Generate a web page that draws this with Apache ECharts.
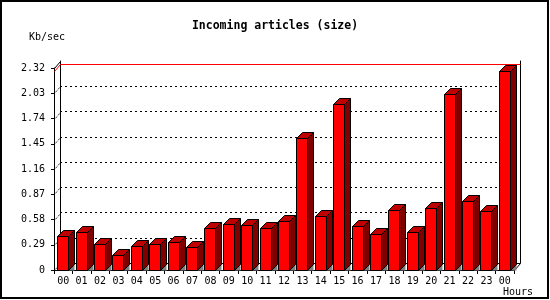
<!DOCTYPE html>
<html>
<head>
<meta charset="utf-8">
<script src="https://cdn.jsdelivr.net/npm/echarts@6/dist/echarts.min.js"></script>
<style>html,body{margin:0;padding:0;background:#fff}#c{width:550px;height:300px}</style>
</head>
<body>
<div id="c"></div>
<script>
var titleText = 'Incoming articles (size)';
var yAxisTitle = 'Kb/sec';
var xAxisTitle = 'Hours';
var hours = ['00','01','02','03','04','05','06','07','08','09','10','11','12','13','14','15','16','17','18','19','20','21','22','23','00'];
var sizes = [0.385,0.442,0.300,0.178,0.278,0.300,0.327,0.266,0.485,0.534,0.522,0.485,0.568,1.518,0.622,1.909,0.500,0.416,0.691,0.442,0.714,2.024,0.795,0.680,2.288];
var yMax = 2.32;
var yStep = 0.29;
var yTickValues = [0,0.29,0.58,0.87,1.16,1.45,1.74,2.03,2.32];

var DX = 6, DY = 7, BD = 6;
var FONT = 'DejaVu Sans Mono';
var maxVal = Math.max.apply(null, sizes);

var chart = echarts.init(document.getElementById('c'), null, {renderer:'canvas'});

function r(v){ return Math.round(v) + 0.5; }

var option = {
  animation: false,
  backgroundColor: '#fff',
  grid: [
    {left: 54, top: 68, width: 460, height: 202},
    {left: 60, top: 61, width: 460, height: 202}
  ],
  xAxis: [
    {type:'category', gridIndex:0, data: hours, boundaryGap:true,
     axisLine:{show:true, lineStyle:{color:'#000', width:1}},
     axisTick:{show:true, length:4, lineStyle:{color:'#000'}, interval:0},
     axisLabel:{interval:0, margin:6, color:'#000', fontFamily:FONT, fontSize:10},
     splitLine:{show:false}},
    {type:'category', gridIndex:1, data: hours, position:'top',
     axisLine:{show:true, lineStyle:{color:'#000', width:1}},
     axisTick:{show:false}, axisLabel:{show:false}, splitLine:{show:false}}
  ],
  yAxis: [
    {type:'value', gridIndex:0, min:0, max:yMax, interval:yStep,
     axisLine:{show:true, lineStyle:{color:'#000'}},
     axisTick:{show:true, length:3, lineStyle:{color:'#000'}},
     axisLabel:{margin:9, color:'#000', fontFamily:FONT, fontSize:10,
       formatter:function(v){ var i = Math.round(v/yStep); var t = yTickValues[i]; return t===0?'0':t.toFixed(2);} },
     splitLine:{show:false}},
    {type:'value', gridIndex:1, min:0, max:yMax, interval:yStep,
     axisLine:{show:true, lineStyle:{color:'#000'}},
     axisTick:{show:false}, axisLabel:{show:false},
     splitLine:{show:true, showMinLine:false, showMaxLine:false, lineStyle:{color:'#000', type:[2,3], width:1}}},
    {type:'value', gridIndex:1, min:0, max:yMax, interval:yStep, position:'right',
     axisLine:{show:true, onZero:false, lineStyle:{color:'#000'}},
     axisTick:{show:false}, axisLabel:{show:false}, splitLine:{show:false}}
  ],
  graphic: [
    {type:'rect', shape:{x:1, y:1, width:547, height:297}, style:{fill:null, stroke:'#000', lineWidth:2}, silent:true},
    {type:'text', x:275, y:26, style:{text:titleText, font:'bold 11.5px "DejaVu Sans Mono"', fill:'#000', textAlign:'center', textVerticalAlign:'middle'}},
    {type:'text', x:47, y:37, style:{text:yAxisTitle, font:'10px "DejaVu Sans Mono"', fill:'#000', textAlign:'center', textVerticalAlign:'middle'}},
    {type:'text', x:518, y:292, style:{text:xAxisTitle, font:'10px "DejaVu Sans Mono"', fill:'#000', textAlign:'center', textVerticalAlign:'middle'}}
  ],
  series: [
    {
      type:'custom', xAxisIndex:0, yAxisIndex:0, z:1,
      data: yTickValues.map(function(v){ return [0, v]; }),
      renderItem: function(params, api){
        var cs = params.coordSys;
        var v = api.value(1);
        var y = api.coord([0, v])[1];
        var top = v >= yMax - 1e-9;
        var children = [{type:'line', shape:{x1:cs.x+0.5, y1:r(y), x2:cs.x+DX+0.5, y2:r(y)-DY},
          style:{stroke:'#000', lineWidth:1, lineDash: top ? null : [1,1]}}];
        if (v === 0) {
          children.push({type:'line', shape:{x1:cs.x+cs.width+0.5, y1:r(y), x2:cs.x+cs.width+DX+0.5, y2:r(y)-DY},
            style:{stroke:'#000', lineWidth:1}});
        }
        return {type:'group', children: children};
      }
    },
    {
      type:'custom', xAxisIndex:0, yAxisIndex:0, z:2,
      data: [[0, maxVal]],
      renderItem: function(params, api){
        var cs = params.coordSys;
        var y = r(api.coord([0, api.value(1)])[1]);
        return {type:'polyline', shape:{points:[[cs.x+0.5, y],[cs.x+DX+0.5, y-DY],[cs.x+cs.width+DX+0.5, y-DY]]},
          style:{stroke:'#ff0000', lineWidth:1, fill:null}};
      }
    },
    {
      type:'custom', xAxisIndex:0, yAxisIndex:0, z:3,
      data: sizes.map(function(v, i){ return [i, v]; }),
      renderItem: function(params, api){
        var i = api.value(0), v = api.value(1);
        var base = api.coord([i, 0]);
        var topP = api.coord([i, v]);
        var x0 = Math.round(base[0] - 6) + 0.5;
        var x1 = x0 + 11;
        var yb = Math.round(base[1]) + 0.5;
        var yt = Math.round(topP[1]) + 0.5;
        var ls = {stroke:'#000', lineWidth:1};
        return {type:'group', children:[
          {type:'polygon', shape:{points:[[x1, yb],[x1+BD, yb-BD],[x1+BD, yb]]}, style:{fill:'#808080', stroke:null}},
          {type:'polygon', shape:{points:[[x1, yt],[x1+BD, yt-BD],[x1+BD, yb-BD],[x1, yb]]}, style:Object.assign({fill:'#800000'}, ls)},
          {type:'polygon', shape:{points:[[x0, yt],[x0+BD, yt-BD],[x1+BD, yt-BD],[x1, yt]]}, style:Object.assign({fill:'#c00000'}, ls)},
          {type:'polygon', shape:{points:[[x0, yt],[x1, yt],[x1, yb],[x0, yb]]}, style:Object.assign({fill:'#ff0000'}, ls)}
        ]};
      }
    }
  ]
};
chart.setOption(option);
</script>
</body>
</html>
